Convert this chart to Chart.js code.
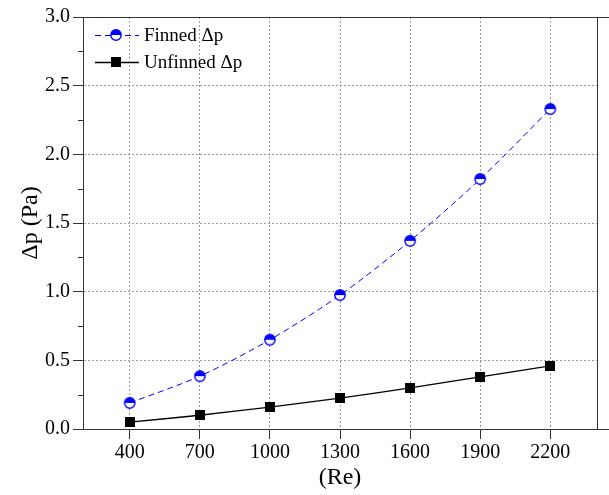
<!DOCTYPE html>
<html>
<head>
<meta charset="utf-8">
<script src="https://cdn.jsdelivr.net/npm/chart.js@4.4.0/dist/chart.umd.min.js"></script>
<style>
  html, body { margin: 0; padding: 0; background: #fff; }
  #wrap { width: 609px; height: 495px; }
</style>
</head>
<body>
<div id="wrap"><canvas id="c" width="609" height="495"></canvas></div>
<script>
// Reynolds numbers and pressure drop (Pa)
const reynolds   = [400, 700, 1000, 1300, 1600, 1900, 2200];
const finnedDp   = [0.19, 0.385, 0.65, 0.975, 1.37, 1.82, 2.33];
const unfinnedDp = [0.05, 0.10, 0.16, 0.225, 0.30, 0.38, 0.46];
const xTickValues = [400, 700, 1000, 1300, 1600, 1900, 2200];
const seriesNames = ['Finned \u0394p', 'Unfinned \u0394p'];

const FONT = "'Liberation Serif', 'DejaVu Serif', serif";
const BLUE = '#0000ff';

// half-filled circle marker (top half solid)
function halfCircleMarker() {
  const c = document.createElement('canvas');
  c.width = 14; c.height = 14;
  const g = c.getContext('2d');
  const r = 5.2;
  g.beginPath(); g.arc(7, 7, r, 0, Math.PI * 2); g.fillStyle = '#fff'; g.fill();
  g.beginPath(); g.arc(7, 7, r, Math.PI, Math.PI * 2); g.closePath(); g.fillStyle = BLUE; g.fill();
  g.beginPath(); g.arc(7, 7, r, 0, Math.PI * 2); g.lineWidth = 1.4; g.strokeStyle = BLUE; g.stroke();
  return c;
}
// solid square marker
function squareMarker() {
  const c = document.createElement('canvas');
  c.width = 10; c.height = 10;
  const g = c.getContext('2d');
  g.fillStyle = '#000'; g.fillRect(0, 0, 10, 10);
  return c;
}
const finMark = halfCircleMarker();
const sqMark = squareMarker();

// frame, minor ticks and the in-plot legend
const decorations = {
  id: 'decorations',
  afterDraw(chart) {
    const { ctx, chartArea: a, scales } = chart;
    ctx.save();
    ctx.strokeStyle = '#333';
    ctx.lineWidth = 1;
    ctx.setLineDash([]);
    // top and right frame
    ctx.beginPath();
    ctx.moveTo(a.left, a.top + 0.5); ctx.lineTo(chart.width, a.top + 0.5);
    ctx.moveTo(a.right + 0.5, a.top); ctx.lineTo(a.right + 0.5, a.bottom);
    ctx.moveTo(a.right, a.bottom + 0.5); ctx.lineTo(chart.width, a.bottom + 0.5);
    ctx.stroke();
    // minor y ticks
    const y = scales.y;
    ctx.beginPath();
    for (let v = 0.25; v < 3; v += 0.5) {
      const py = Math.round(y.getPixelForValue(v)) + 0.5;
      ctx.moveTo(a.left - 5, py); ctx.lineTo(a.left, py);
    }
    ctx.stroke();
    // legend
    const rows = [35, 62];
    chart.data.datasets.forEach((ds, i) => {
      const ly = rows[i];
      ctx.beginPath();
      ctx.strokeStyle = ds.borderColor;
      ctx.lineWidth = ds.borderWidth;
      ctx.setLineDash(ds.borderDash || []);
      ctx.moveTo(95, ly + 0.5); ctx.lineTo(139, ly + 0.5);
      ctx.stroke();
      ctx.setLineDash([]);
      const m = ds.pointStyle;
      ctx.drawImage(m, 116 - m.width / 2, ly - m.height / 2);
      ctx.fillStyle = '#000';
      ctx.font = '19px ' + FONT;
      ctx.textBaseline = 'middle';
      ctx.textAlign = 'left';
      ctx.fillText(ds.label, 144, ly + 1);
    });
    ctx.restore();
  }
};

new Chart(document.getElementById('c'), {
  type: 'line',
  data: {
    datasets: [
      {
        label: seriesNames[0],
        data: reynolds.map((r, i) => ({ x: r, y: finnedDp[i] })),
        borderColor: BLUE,
        borderWidth: 1,
        borderDash: [6, 4],
        tension: 0.3,
        pointStyle: finMark,
        pointRadius: 6,
        pointHoverRadius: 6
      },
      {
        label: seriesNames[1],
        data: reynolds.map((r, i) => ({ x: r, y: unfinnedDp[i] })),
        borderColor: '#000',
        borderWidth: 1.3,
        tension: 0.2,
        pointStyle: sqMark,
        pointRadius: 5,
        pointHoverRadius: 5
      }
    ]
  },
  options: {
    responsive: false,
    animation: false,
    events: [],
    layout: { padding: { top: 17, right: 12, left: 0, bottom: 0 } },
    plugins: { legend: { display: false }, tooltip: { enabled: false } },
    scales: {
      x: {
        type: 'linear',
        min: 200,
        max: 2400,
        afterBuildTicks(scale) { scale.ticks = xTickValues.map(v => ({ value: v })); },
        afterFit(scale) { scale.height = 66; },
        ticks: { color: '#000', font: { family: FONT, size: 20 }, padding: 2, maxRotation: 0, callback: v => String(v) },
        grid: { color: '#9a9a9a', lineWidth: 1, tickColor: '#333', tickLength: 10, tickBorderDash: [] },
        border: { color: '#333', width: 1, dash: [2, 2] },
        title: { display: true, text: '(Re)', color: '#000', font: { family: FONT, size: 24 }, padding: { top: 0, bottom: 3 } }
      },
      y: {
        min: 0,
        max: 3,
        afterFit(scale) { scale.width = 83; },
        ticks: { stepSize: 0.5, color: '#000', font: { family: FONT, size: 20 }, padding: 3, callback: v => v.toFixed(1) },
        grid: { color: '#9a9a9a', lineWidth: 1, tickColor: '#333', tickLength: 10, tickBorderDash: [] },
        border: { color: '#333', width: 1, dash: [2, 2] },
        title: { display: true, text: '\u0394p (Pa)', color: '#000', font: { family: FONT, size: 24 }, padding: { top: 16, bottom: 0 } }
      }
    }
  },
  plugins: [decorations]
});
</script>
</body>
</html>
